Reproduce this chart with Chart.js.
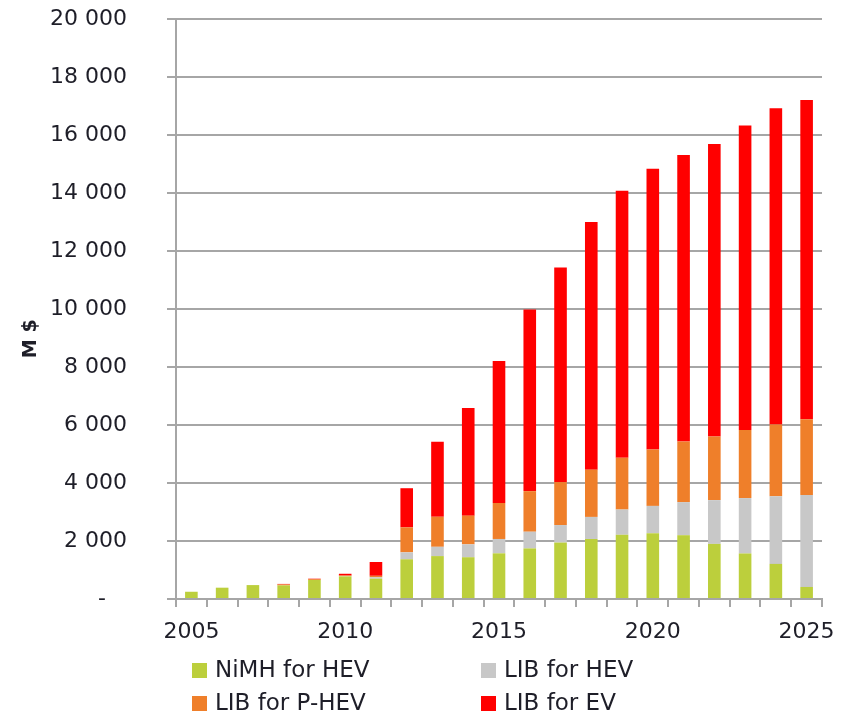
<!DOCTYPE html>
<html>
<head>
<meta charset="utf-8">
<script src="https://cdn.jsdelivr.net/npm/chart.js@4.4.1/dist/chart.umd.min.js"></script>
<style>
  html, body { margin: 0; padding: 0; background: #ffffff; }
  #wrap { position: relative; width: 855px; height: 721px; }
  #legend { position: absolute; left: 0; top: 0; width: 855px; height: 721px; pointer-events: none;
            font-family: "DejaVu Sans", sans-serif; font-size: 23px; color: #1e1e28; }
  .item { position: absolute; height: 26px; line-height: 26px; white-space: nowrap; }
  .box { display: inline-block; width: 15px; height: 15px; margin-right: 8px; vertical-align: -1px; }
</style>
</head>
<body>
<div id="wrap">
  <canvas id="c"></canvas>
  <div id="legend"></div>
</div>
<script>
// ---- data ----
const years = ['2005','2006','2007','2008','2009','2010','2011','2012','2013','2014','2015',
               '2016','2017','2018','2019','2020','2021','2022','2023','2024','2025'];
const nimhHEV = [250, 390, 480, 470, 655, 780, 700, 1370, 1480, 1440, 1575,
                 1745, 1945, 2070, 2215, 2270, 2200, 1900, 1570, 1210, 415];
const libHEV  = [0, 0, 0, 0, 0, 10, 50, 240, 320, 445, 495,
                 575, 605, 760, 870, 940, 1140, 1510, 1910, 2330, 3170];
const libPHEV = [0, 0, 0, 30, 30, 20, 50, 860, 1035, 990, 1240,
                 1400, 1480, 1630, 1785, 1945, 2090, 2195, 2350, 2480, 2615];
const libEV   = [0, 0, 0, 20, 15, 60, 475, 1350, 2590, 3710, 4895,
                 6265, 7400, 8540, 9205, 9680, 9880, 10085, 10500, 10900, 11010];
const seriesNames = ['NiMH for HEV', 'LIB for HEV', 'LIB for P-HEV', 'LIB for EV'];
const xTickLabels = ['2005', '2010', '2015', '2020', '2025'];
const yTickLabels = ['-   ', '2 000', '4 000', '6 000', '8 000', '10 000',
                     '12 000', '14 000', '16 000', '18 000', '20 000'];
const yTitle = 'M $';

// ---- styles ----
const colors = ['#BCCF3C', '#C8C8C8', '#EF7F2A', '#FF0000'];
const gridColor = '#A6A6A6';
const textColor = '#1e1e28';

const seriesValues = [nimhHEV, libHEV, libPHEV, libEV];
const datasets = seriesValues.map((vals, i) => ({
  label: seriesNames[i],
  data: vals,
  backgroundColor: colors[i],
  borderWidth: 0,
  barPercentage: 0.41,
  categoryPercentage: 1.0
}));

const chart = new Chart(document.getElementById('c'), {
  type: 'bar',
  data: { labels: years, datasets: datasets },
  options: {
    responsive: true,
    maintainAspectRatio: false,
    animation: false,
    layout: { padding: { left: 0, right: 33, top: 19, bottom: 72 } },
    plugins: { legend: { display: false }, tooltip: { enabled: false } },
    scales: {
      x: {
        stacked: true,
        afterFit: (s) => { s.height = 50; },
        grid: { display: true, drawOnChartArea: false, drawTicks: true, tickLength: 8,
                color: gridColor, lineWidth: 2, offset: true },
        border: { display: true, color: gridColor, width: 2 },
        ticks: {
          autoSkip: false, maxRotation: 0, minRotation: 0, padding: 12,
          color: textColor, font: { family: 'DejaVu Sans', size: 22 },
          callback: function (v, i) {
            const l = this.getLabelForValue(v);
            return xTickLabels.includes(l) ? l : '';
          }
        }
      },
      y: {
        stacked: true,
        min: 0, max: 20000,
        afterFit: (s) => { s.width = 176; s.paddingTop = 0; s.paddingBottom = 0; },
        grid: { color: gridColor, lineWidth: 2, drawTicks: true, tickLength: 9 },
        border: { display: true, color: gridColor, width: 2 },
        ticks: {
          stepSize: 2000, padding: 40,
          color: textColor, font: { family: 'DejaVu Sans', size: 22 },
          callback: (v, i) => yTickLabels[i]
        },
        title: {
          display: true,
          text: yTitle + '         ',
          color: textColor,
          font: { family: 'DejaVu Sans', size: 19, weight: 'bold' },
          padding: { top: 20, bottom: 0 }
        }
      }
    }
  }
});

// ---- legend (2 x 2 grid), built from the datasets ----
const legendPos = [[192, 656], [481, 656], [192, 689], [481, 689]];
const lg = document.getElementById('legend');
chart.data.datasets.forEach((ds, i) => {
  const d = document.createElement('div');
  d.className = 'item';
  d.style.left = legendPos[i][0] + 'px';
  d.style.top = legendPos[i][1] + 'px';
  const b = document.createElement('span');
  b.className = 'box';
  b.style.background = ds.backgroundColor;
  d.appendChild(b);
  d.appendChild(document.createTextNode(ds.label));
  lg.appendChild(d);
});
</script>
</body>
</html>
